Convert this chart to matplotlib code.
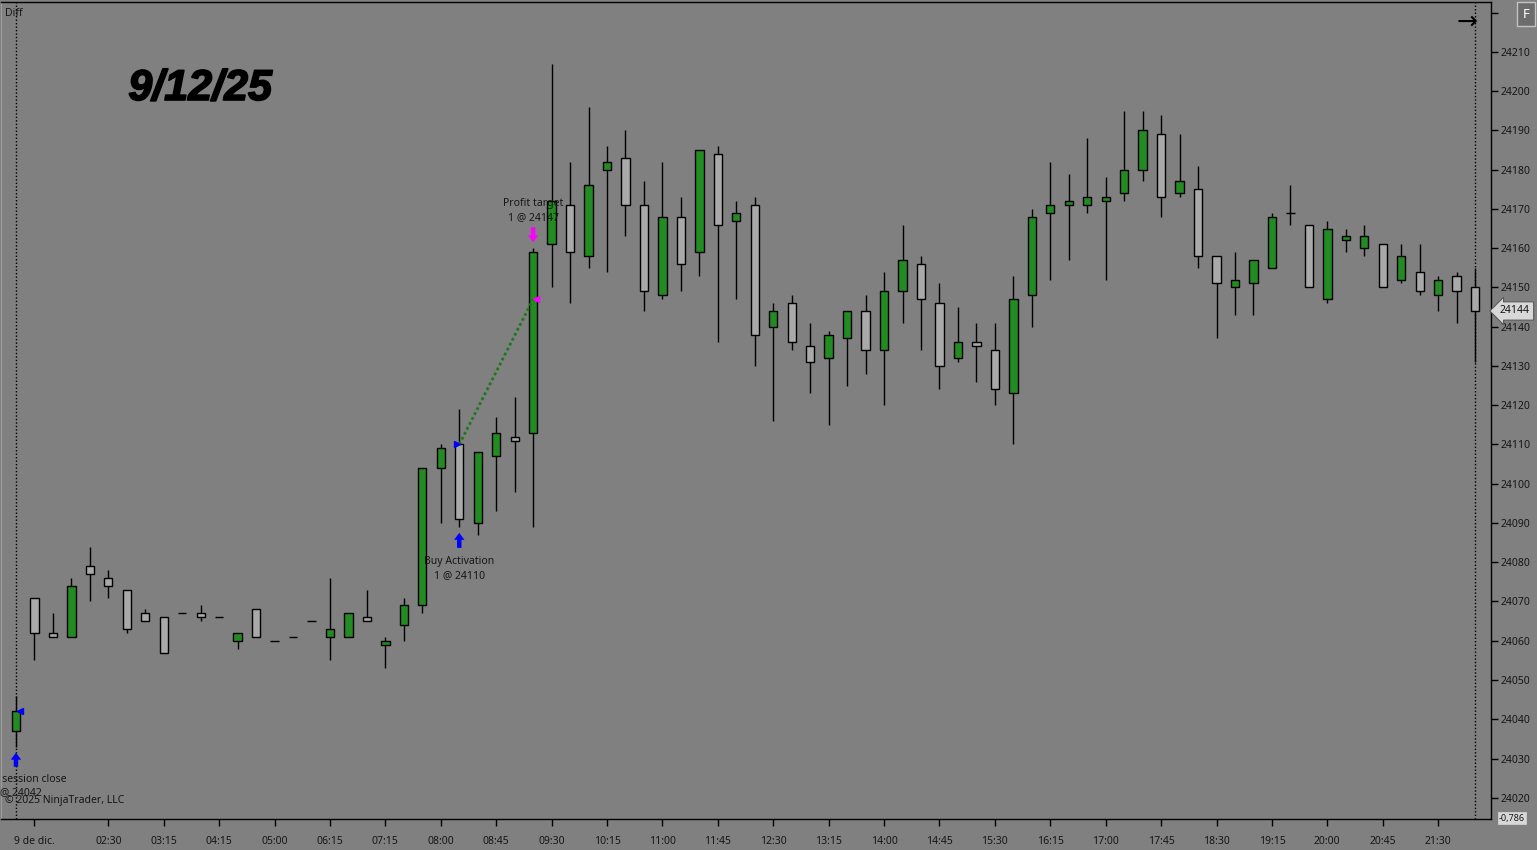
import numpy as np
import matplotlib
matplotlib.use("Agg")
import matplotlib.pyplot as plt
import matplotlib.patheffects as pe

plt.rcParams['font.family'] = ['Noto Sans', 'DejaVu Sans']

# ---- bar data ----
opens = [24037, 24071, 24062, 24061, 24079, 24076, 24073, 24067, 24066, 24067,
         24067, 24066, 24060, 24068, 24060, 24061, 24065, 24061, 24061, 24066,
         24059, 24064, 24069, 24104, 24110, 24090, 24107, 24112, 24113, 24161,
         24171, 24158, 24180, 24183, 24171, 24148, 24168, 24159, 24184, 24167,
         24171, 24140, 24146, 24135, 24132, 24137, 24144, 24134, 24149, 24156,
         24146, 24132, 24136, 24134, 24123, 24148, 24169, 24171, 24171, 24172,
         24174, 24180, 24189, 24174, 24175, 24158, 24150, 24151, 24155, 24169,
         24166, 24147, 24162, 24160, 24161, 24152, 24154, 24148, 24153, 24150]
highs = [24046, 24071, 24067, 24076, 24084, 24078, 24073, 24068, 24066, 24067,
         24069, 24066, 24062, 24068, 24060, 24061, 24065, 24076, 24067, 24073,
         24061, 24071, 24104, 24110, 24119, 24108, 24117, 24122, 24160, 24207,
         24182, 24196, 24186, 24190, 24177, 24182, 24173, 24185, 24186, 24172,
         24173, 24146, 24148, 24141, 24139, 24144, 24148, 24154, 24166, 24158,
         24151, 24145, 24141, 24141, 24153, 24170, 24182, 24179, 24188, 24178,
         24195, 24195, 24194, 24189, 24181, 24158, 24159, 24157, 24169, 24176,
         24166, 24167, 24165, 24166, 24161, 24161, 24161, 24153, 24154, 24155]
lows = [24033, 24055, 24061, 24061, 24070, 24071, 24062, 24065, 24057, 24067,
        24065, 24066, 24058, 24061, 24060, 24061, 24065, 24055, 24061, 24065,
        24053, 24060, 24067, 24090, 24089, 24087, 24093, 24098, 24089, 24150,
        24146, 24155, 24154, 24163, 24144, 24147, 24149, 24153, 24136, 24147,
        24130, 24116, 24134, 24123, 24115, 24125, 24128, 24120, 24141, 24134,
        24124, 24131, 24126, 24120, 24110, 24140, 24152, 24157, 24169, 24152,
        24172, 24177, 24168, 24173, 24155, 24137, 24143, 24143, 24155, 24166,
        24150, 24146, 24159, 24158, 24150, 24151, 24148, 24144, 24141, 24131]
closes = [24042, 24062, 24061, 24074, 24077, 24074, 24063, 24065, 24057, 24067,
          24066, 24066, 24062, 24061, 24060, 24061, 24065, 24063, 24067, 24065,
          24060, 24069, 24104, 24109, 24091, 24108, 24113, 24111, 24159, 24172,
          24159, 24176, 24182, 24171, 24149, 24168, 24156, 24185, 24166, 24169,
          24138, 24144, 24136, 24131, 24138, 24144, 24134, 24149, 24157, 24147,
          24130, 24136, 24135, 24124, 24147, 24168, 24171, 24172, 24173, 24173,
          24180, 24190, 24173, 24177, 24158, 24151, 24152, 24157, 24168, 24169,
          24150, 24165, 24163, 24163, 24150, 24158, 24149, 24152, 24149, 24144]

# x axis labels (every 3rd bar after the first one)
tick_idx = [1] + list(range(5, 78, 3))
tick_labels = ['9 de dic.', '02:30', '03:15', '04:15', '05:00', '06:15', '07:15',
               '08:00', '08:45', '09:30', '10:15', '11:00', '11:45', '12:30',
               '13:15', '14:00', '14:45', '15:30', '16:15', '17:00', '17:45',
               '18:30', '19:15', '20:00', '20:45', '21:30']

# trades
exit_prev_idx, exit_prev_price = 0, 24042
entry_idx, entry_price = 24, 24110
target_idx, target_price = 28, 24147
last_price = 24144

BG = '#808080'
UP = '#228B22'
DOWN = '#A9A9A9'
TXT = '#161616'

fig = plt.figure(figsize=(15.37, 8.5), dpi=100, facecolor=BG)
ax = fig.add_axes([1 / 1537, 31 / 850, 1490 / 1537, 817 / 850])
ax.set_facecolor(BG)

o = np.array(opens)
h = np.array(highs)
l = np.array(lows)
c = np.array(closes)
x = np.arange(len(o))

# wicks
ax.vlines(x, l, h, color='black', lw=1, zorder=2)

# bodies
colors = np.where(c > o, UP, np.where(c < o, DOWN, 'black'))
ax.bar(x, np.abs(c - o), bottom=np.minimum(o, c), width=0.45,
       color=colors, edgecolor='black', linewidth=1, zorder=3)

# session / current bar dotted lines
ax.axvline(0, color='black', lw=1, ls=(0, (1, 1.5)), zorder=1)
ax.axvline(len(o) - 1, color='black', lw=1, ls=(0, (1, 1.5)), zorder=1)

# trade line
ax.plot([entry_idx, target_idx], [entry_price, target_price], ls=(0, (1, 1)),
        color='#1a7a1a', lw=2, zorder=4)
ax.plot(entry_idx - 0.12, entry_price, marker='>', color='blue', ms=5, zorder=5)
ax.plot(target_idx + 0.15, target_price, marker='<', color='magenta', ms=5, zorder=5)
ax.plot(exit_prev_idx + 0.2, exit_prev_price, marker='<', color='blue', ms=5, zorder=5)

arrow_kw = dict(arrowstyle='simple,head_length=0.5,head_width=0.75,tail_width=0.32',
                shrinkA=0, shrinkB=4.3, mutation_scale=10, lw=0)
# buy arrow + text
ax.annotate('', xy=(entry_idx, l[entry_idx]), xytext=(0, -21), textcoords='offset pixels',
            arrowprops=dict(fc='blue', ec='blue', **arrow_kw), zorder=6)
ax.annotate('Buy Activation\n1 @ %d' % entry_price, xy=(entry_idx, l[entry_idx]),
            xytext=(0, -29), textcoords='offset pixels', ha='center', va='top',
            fontsize=7.5, color=TXT, linespacing=1.35)
# profit target arrow + text
ax.annotate('', xy=(target_idx, h[target_idx]), xytext=(0, 21), textcoords='offset pixels',
            arrowprops=dict(fc='magenta', ec='magenta', **arrow_kw), zorder=6)
ax.annotate('Profit target\n1 @ %d' % target_price, xy=(target_idx, h[target_idx]),
            xytext=(0, 25), textcoords='offset pixels', ha='center', va='bottom',
            fontsize=7.5, color=TXT, linespacing=1.35)
# exit on session close
ax.annotate('', xy=(exit_prev_idx, l[exit_prev_idx]), xytext=(0, -20), textcoords='offset pixels',
            arrowprops=dict(fc='blue', ec='blue', **arrow_kw), zorder=6)
ax.annotate('Exit on session close\n1 @ %d' % exit_prev_price, xy=(exit_prev_idx, l[exit_prev_idx]),
            xytext=(0, -27), textcoords='offset pixels', ha='center', va='top',
            fontsize=7.5, color=TXT, linespacing=1.35, annotation_clip=False)

# axes
ax.set_xlim(-0.81, 79.86)
ax.set_ylim(24014.6, 24222.7)
ax.yaxis.tick_right()
yt = np.arange(24020, 24221, 10)
ax.set_yticks(yt)
ax.set_yticklabels([str(v) if v <= 24210 else '' for v in yt])
ax.set_xticks(tick_idx)
ax.set_xticklabels(tick_labels)
ax.tick_params(axis='both', direction='out', length=5, width=1, color='black',
               labelcolor=TXT, labelsize=7.5)
ax.tick_params(axis='x', pad=7)
ax.tick_params(axis='y', pad=2)
for s in ['top', 'bottom', 'right']:
    ax.spines[s].set_color('black')
    ax.spines[s].set_linewidth(1)
ax.spines['left'].set_color('#9c9c9c')

# last price marker
ax.annotate(str(last_price), xy=(1.0, last_price), xycoords=('axes fraction', 'data'),
            xytext=(9, 0), textcoords='offset pixels', ha='left', va='center',
            fontsize=7.5, color=TXT, annotation_clip=False, zorder=10,
            bbox=dict(boxstyle='larrow,pad=0.35', fc='#d8d8d8', ec='#5a5a5a', lw=0.8))

# extra labels
t = fig.text(200 / 1537, 1 - 89 / 850, '9/12/25', ha='center', va='center', fontsize=31,
             fontweight='bold', fontstyle='italic', family='Liberation Sans', color='black')
t.set_path_effects([pe.withStroke(linewidth=1.2, foreground='black')])
fig.text(5 / 1537, 1 - 14 / 850, 'Diff', fontsize=7.5, va='center', color=TXT)
fig.text(5 / 1537, 1 - 800 / 850, '\u00a9 2025 NinjaTrader, LLC', fontsize=7.5,
         va='center', color=TXT)
fig.text(1467 / 1537, 1 - 22 / 850, '\u2192', fontsize=18, ha='center', va='center',
         color='black', family=['DejaVu Sans'])
fig.text(1526 / 1537, 1 - 14 / 850, 'F', fontsize=9.5, ha='center', va='center', color='white',
         bbox=dict(boxstyle='square,pad=0.4', fc='#6c6c6c', ec='#c4c4c4', lw=1))
fig.text(1512 / 1537, 1 - 818 / 850, '-0,786', fontsize=6.5, ha='center', va='center',
         color=TXT, bbox=dict(boxstyle='square,pad=0.15', fc='#d8d8d8', ec='#d8d8d8', lw=0.5))

fig.savefig('out.png', dpi=100, facecolor=BG)
